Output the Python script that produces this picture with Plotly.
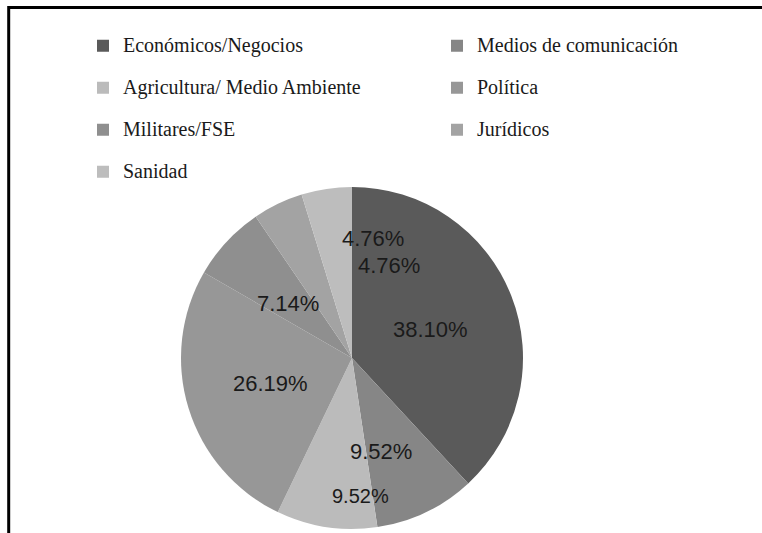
import math
import plotly.graph_objects as go

categories = [
    "Económicos/Negocios",
    "Medios de comunicación",
    "Agricultura/ Medio Ambiente",
    "Política",
    "Militares/FSE",
    "Jurídicos",
    "Sanidad",
]
percentages = [38.10, 9.52, 9.52, 26.19, 7.14, 4.76, 4.76]
slice_colors = ["#5a5a5a", "#868686", "#bbbbbb", "#979797", "#8f8f8f", "#a3a3a3", "#bdbdbd"]

W, H = 762, 533

# pie geometry (pixels)
CX, CY, R = 352, 358, 171

# Excel-like label placement: offset from slice mid-angle (deg) and radius fraction
label_angle_offset = [1.2, 8.6, -11.9, 0.1, -2.2, 47.6, 18.5]
label_radius = [0.49, 0.575, 0.81, 0.50, 0.49, 0.58, 0.71]
label_size = [22, 22, 20, 22, 22, 22, 22]

# legend entries: big first line + empty second line to get Excel-like row spacing
legend_labels = [f"<span style='font-size:20px'>{c}</span><br> " for c in categories]

fig = go.Figure(
    go.Pie(
        labels=legend_labels,
        values=percentages,
        sort=False,
        direction="clockwise",
        rotation=0,
        marker=dict(colors=slice_colors, line=dict(width=0)),
        textinfo="none",
        hoverinfo="skip",
        domain=dict(x=[(CX - R) / W, (CX + R) / W], y=[1 - (CY + R) / H, 1 - (CY - R) / H]),
    )
)

# percentage labels, positioned from the cumulative slice angles
total = sum(percentages)
cum = 0.0
annotations = []
for i, v in enumerate(percentages):
    mid = (cum + v / 2) / total * 360.0
    cum += v
    ang = math.radians(mid + label_angle_offset[i])
    px = CX + label_radius[i] * R * math.sin(ang)
    py = CY - label_radius[i] * R * math.cos(ang)
    annotations.append(dict(
        x=px / W, y=1 - py / H, xref="paper", yref="paper",
        text=f"{v:.2f}%", showarrow=False,
        xanchor="center", yanchor="middle",
        font=dict(family="Liberation Sans, Arial, sans-serif", size=label_size[i], color="#1a1a1a"),
    ))

fig.update_layout(
    width=W,
    height=H,
    margin=dict(l=0, r=0, t=0, b=0),
    paper_bgcolor="white",
    plot_bgcolor="white",
    showlegend=True,
    annotations=annotations,
    legend=dict(
        orientation="h",
        x=0,
        xanchor="left",
        y=1 - 29.6 / H,
        yanchor="top",
        indentation=83,
        entrywidth=226,
        entrywidthmode="pixels",
        valign="top",
        traceorder="normal",
        font=dict(family="Liberation Serif, Times New Roman, serif", size=15, color="#1a1a1a"),
        bgcolor="rgba(0,0,0,0)",
    ),
    shapes=[
        dict(type="line", xref="paper", yref="paper", x0=8.7 / W, x1=1.05,
             y0=1 - 7.5 / H, y1=1 - 7.5 / H, line=dict(color="black", width=3)),
        dict(type="line", xref="paper", yref="paper", x0=8.7 / W, x1=8.7 / W,
             y0=1 - 6 / H, y1=-0.05, line=dict(color="black", width=3)),
    ],
)

fig.write_html(
    "out.html",
    config={"displayModeBar": False},
    post_script="document.body.style.margin='0';",
)
